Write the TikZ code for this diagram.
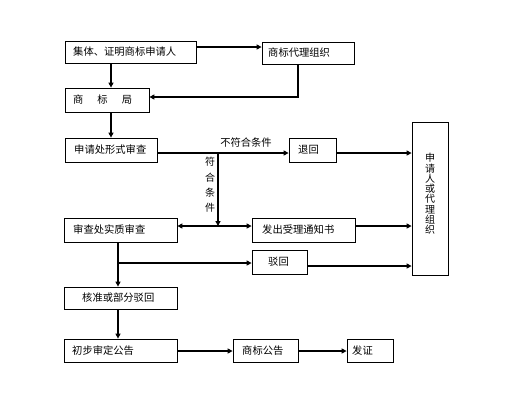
\documentclass[tikz,border=0pt]{standalone}
\usepackage{fontspec}
\setmainfont{Noto Sans CJK SC}
\usetikzlibrary{arrows.meta,calc}
\begin{document}
\begin{tikzpicture}[x=1pt,y=-1pt,
  box/.style={draw,line width=0.8pt,inner sep=0pt,fill=white},
  txt/.style={inner sep=0pt,anchor=west,font=\fontsize{10.3}{12}\selectfont},
  conn/.style={line width=1.6pt},
  arr/.style={line width=1.6pt,-{Triangle[length=5pt,width=5pt]}},
  vtxt/.style={inner sep=0pt,align=center,font=\fontsize{10}{10.3}\selectfont}]
\useasboundingbox (0,0) rectangle (510,408);
\newcommand\bx[5]{\node[box,minimum width={(#4-#2)*1pt},minimum height={(#5-#3)*1pt}] (#1) at ({(#2+#4)/2},{(#3+#5)/2}) {};}
\bx{A}{65}{41}{196}{63}
\bx{B}{262}{42}{354}{64}
\bx{C}{65}{88}{149}{112}
\bx{D}{65}{138}{157}{162}
\bx{T}{289}{138}{336}{162}
\bx{E}{64}{218}{177}{242}
\bx{F}{252}{218}{355}{242}
\bx{G}{252}{250}{307}{274}
\bx{R}{412}{122}{448}{275}
\bx{H}{64}{287}{177}{309}
\bx{I}{64}{339}{177}{362}
\bx{J}{233}{339}{298}{362}
\bx{K}{347}{339}{393}{362}
% texts
\node[txt] (tA) at (73,52) {集体、证明商标申请人};
\node[txt] (tB) at (268,53) {商标代理组织};
\node[txt] (tC) at (73,100) {商\hspace{14pt}标\hspace{14pt}局};
\node[txt] (tD) at (74,150) {申请处形式审查};
\node[txt] (tT) at (298,150) {退回};
\node[txt] (tE) at (73,230) {审查处实质审查};
\node[txt] (tF) at (262,230) {发出受理通知书};
\node[txt] (tG) at (268,262) {驳回};
\node[txt] (tH) at (82,298) {核准或部分驳回};
\node[txt] (tI) at (72,350.5) {初步审定公告};
\node[txt] (tJ) at (242,350.5) {商标公告};
\node[txt] (tK) at (352,350.5) {发证};
\node[vtxt] (tR) at (430,194) {申\\请\\人\\或\\代\\理\\组\\织};
\node[vtxt,font=\fontsize{10}{15.3}\selectfont] (tY) at (210,185) {符\\合\\条\\件};
\node[txt,anchor=center] (tN) at (246,143) {不符合条件};
% connectors
\draw[arr] (A.east |- 0,47) -- (B.west |- 0,47);
\draw[arr] (A.south -| 111,0) -- (C.north -| 111,0);
\coordinate (b1) at (298,97);
\draw[arr] (B.south -| b1) -- (b1) -- (C.east |- b1);
\draw[arr] (C.south -| 111,0) -- (D.north -| 111,0);
\coordinate (j1) at (218,153);
\coordinate (j2) at (218,226);
\draw[conn] (D.east |- j1) -- (j1);
\draw[arr] (j1) -- (T.west |- j1);
\draw[arr] (j1) -- (j2);
\draw[arr] (j2) -- (E.east |- j2);
\draw[arr] (j2) -- (F.west |- j2);
\draw[arr] (T.east |- j1) -- (R.west |- j1);
\draw[arr] (F.east |- j2) -- (R.west |- j2);
\coordinate (g1) at (307,266);
\draw[arr] (g1) -- (R.west |- g1);
\coordinate (e1) at (118,263);
\draw[arr] (E.south -| e1) -- (H.north -| e1);
\draw[arr] (e1) -- (G.west |- e1);
\draw[arr] (H.south -| e1) -- (I.north -| e1);
\coordinate (i1) at (0,351);
\draw[arr] (I.east |- i1) -- (J.west |- i1);
\draw[arr] (J.east |- i1) -- (K.west |- i1);
\end{tikzpicture}
\end{document}
